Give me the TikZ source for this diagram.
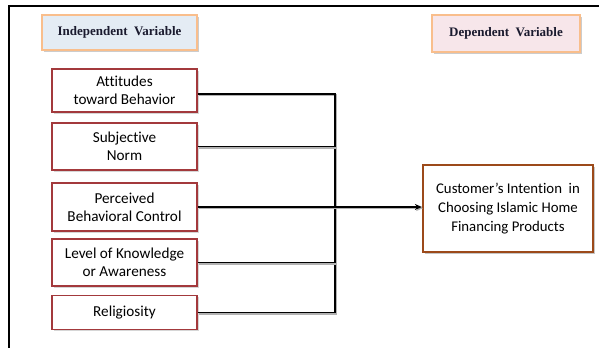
\documentclass[tikz,border=0pt]{standalone}
\usepackage{fontspec}
\setmainfont{Carlito}[Ligatures=NoCommon]
\newfontfamily\tnr{Liberation Serif}
\usetikzlibrary{shadows,arrows.meta}
\definecolor{boxred}{HTML}{A3393C}
\definecolor{lblorange}{HTML}{F9BE8C}
\definecolor{dvbrown}{HTML}{9C4A1A}
\definecolor{ivfill}{HTML}{E4ECF4}
\definecolor{dvfill}{HTML}{F7E6EA}
\definecolor{lbltext}{HTML}{1A1A2E}
\tikzset{
  ivbox/.style={draw=boxred, line width=1.6pt, fill=white, minimum width=145pt, align=center, inner sep=2pt,
    font=\fontsize{15.2}{18}\selectfont,
    drop shadow={shadow xshift=1.5pt, shadow yshift=-1.5pt, fill=gray!80, opacity=0.4}},
  lbl/.style={draw=lblorange, line width=2.8pt, align=center, text=lbltext, font=\tnr\bfseries\fontsize{13}{15}\selectfont,
    drop shadow={shadow xshift=2pt, shadow yshift=-2pt, fill=gray, opacity=0.4}},
  dvbox/.style={draw=dvbrown, line width=2.2pt, fill=white, minimum width=170pt, minimum height=87pt, align=center,
    font=\fontsize{14.8}{19}\selectfont,
    drop shadow={shadow xshift=2pt, shadow yshift=-2pt, fill=gray, opacity=0.45}},
  conn/.style={draw=black, line width=1.5pt,
    preaction={draw=gray!60, line width=2pt, transform canvas={shift={(1pt,-1.2pt)}}}},
}
\begin{document}
\begin{tikzpicture}[x=1pt,y=-1pt]
\useasboundingbox (0,0) rectangle (599,348);
\draw[line width=1.3pt] (599,6) -- (9,6) -- (9,348);
\node[lbl, fill=ivfill, minimum width=155pt, minimum height=35pt] (ivl) at (119.5,32.5) {Independent~ Variable};
\node[lbl, fill=dvfill, minimum width=148pt, minimum height=37pt] (dvl) at (506,33.5) {Dependent~ Variable};
\node[ivbox, minimum height=43pt] (b1) at (124.5,90.5) {Attitudes\\toward Behavior};
\node[ivbox, minimum height=47pt] (b2) at (124.5,146.5) {Subjective\\Norm};
\node[ivbox, minimum height=48pt] (b3) at (124.5,207) {Perceived\\Behavioral Control};
\node[ivbox, minimum height=47pt] (b4) at (124.5,262.5) {Level of Knowledge\\or Awareness};
\node[ivbox, minimum height=34pt] (b5) at (124.5,312.5) {Religiosity};
\node[dvbox] (dv) at (508,208.5) {Customer’s Intention~ in\\Choosing Islamic Home\\Financing Products};
\coordinate (jt) at (335,94);
\draw[conn] (b1.east |- jt) -- (jt) |- (b5.east);
\draw[conn] (b2.east) -- (b2.east -| jt);
\draw[conn] (b4.east) -- (b4.east -| jt);
\draw[conn, -{Stealth[length=7pt,width=6pt]}] (b3.east) -- (b3.east -| dv.west);
\end{tikzpicture}
\end{document}
